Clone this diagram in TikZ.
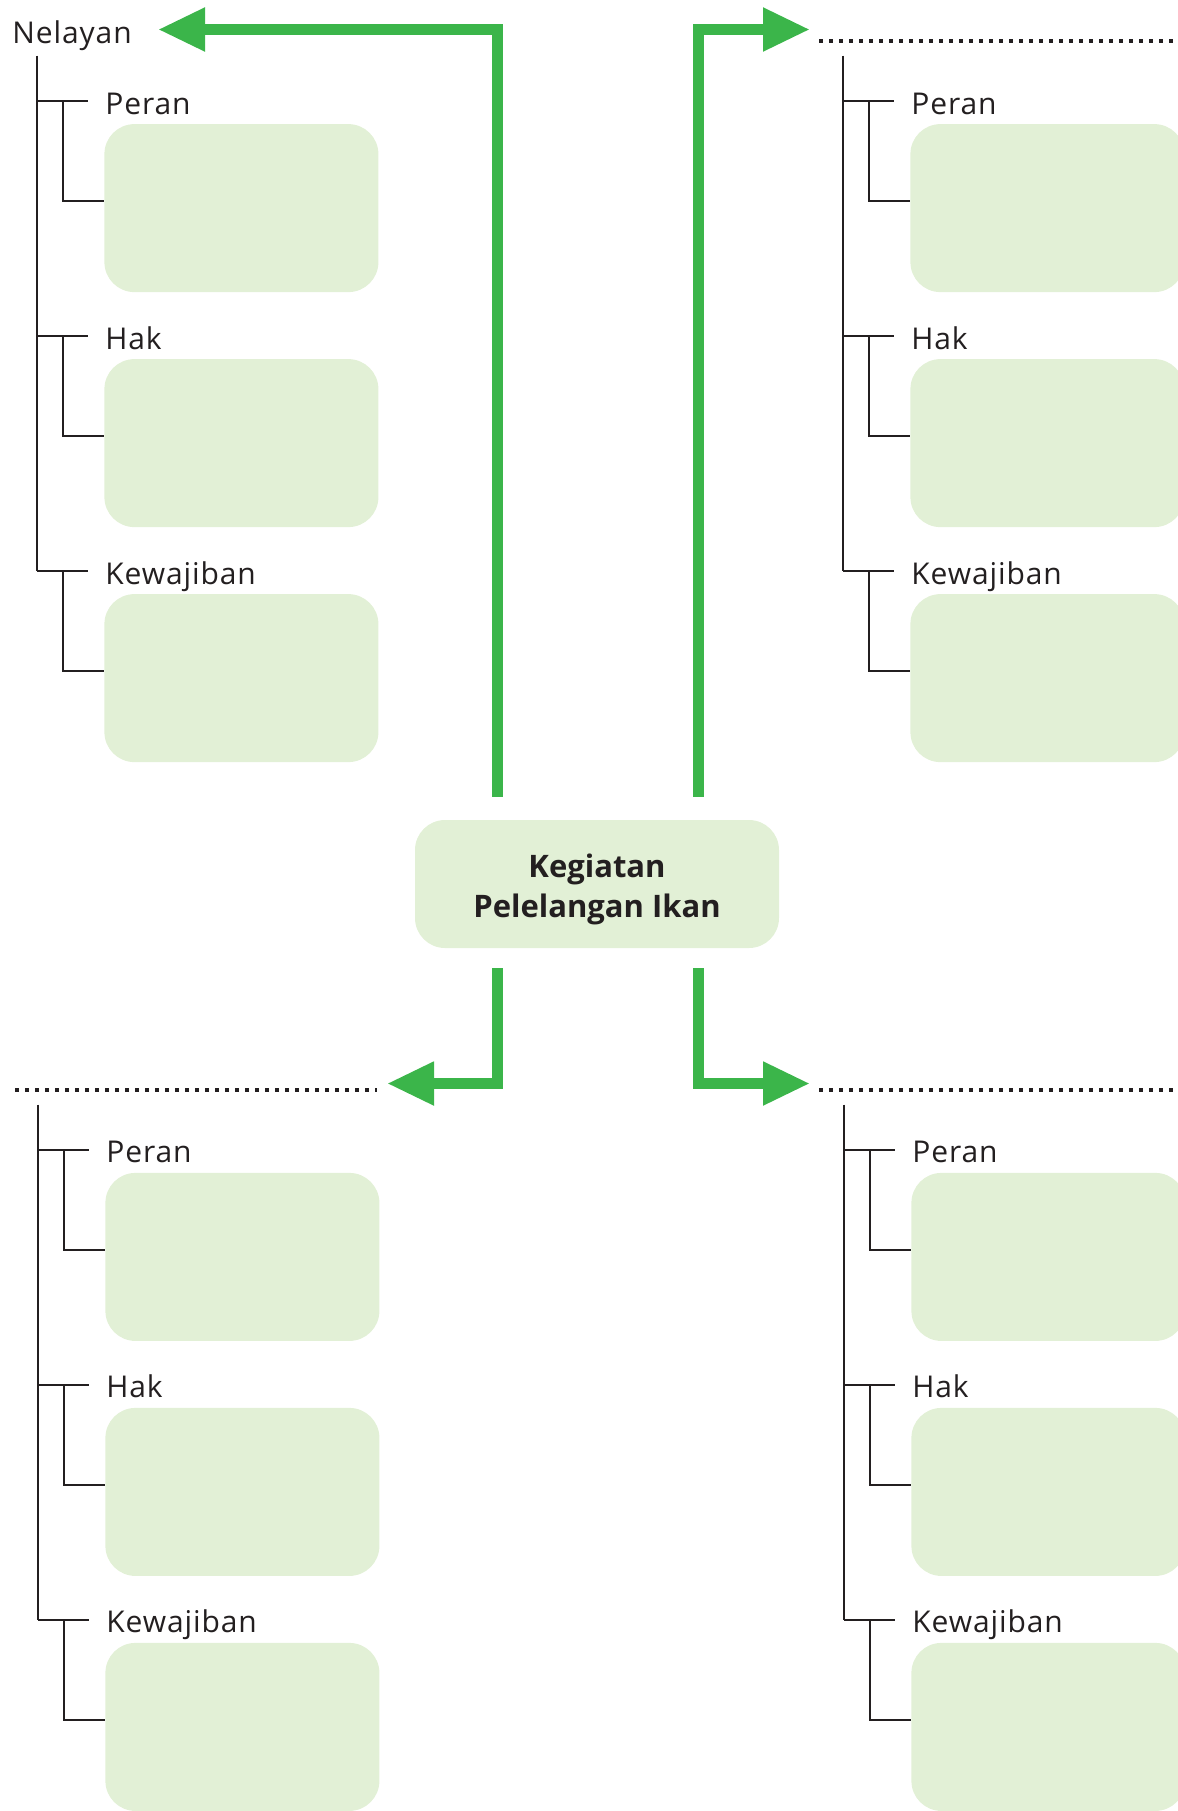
\documentclass[tikz,border=0pt]{standalone}
\usepackage{fontspec}
\setsansfont{Open Sans}[LetterSpace=3]
\newfontfamily\titlefont{Open Sans}
\usetikzlibrary{arrows.meta}
\definecolor{arrowgreen}{RGB}{59,181,74}
\definecolor{boxgreen}{RGB}{226,240,214}
\definecolor{treeline}{RGB}{35,31,32}

\begin{document}
\begin{tikzpicture}[x=0.5pt, y=-0.5pt,
    font=\sffamily\fontsize{15pt}{18pt}\selectfont,
    answerbox/.style={rectangle, rounded corners=15pt, fill=boxgreen,
      minimum width=137pt, minimum height=84pt, inner sep=0pt,
      anchor=north west},
    leaf/.style={anchor=base west, inner sep=0pt, text=treeline},
    tree/.style={treeline, line width=1pt},
    bigarrow/.style={arrowgreen, line width=5.5pt, line join=miter,
      -{Triangle[length=23.5pt, width=20.5pt]}},
    blank/.style={treeline, line width=1.8pt,
      dash pattern=on 1.8pt off 3.2pt}]
  \useasboundingbox (0,0) rectangle (1178,1811);
  \clip (0,0) rectangle (1178,1811);
  % four trees: name / x of trunk / y of first branch
  \foreach \tname/\bx/\by in {nw/37/100.7, ne/843/100.7,
      sw/38/1149.5, se/844/1149.5} {
    \coordinate (\tname-top) at (\bx,\by-45);
    \foreach \lbl [count=\k from 0] in {Peran, Hak, Kewajiban} {
      \coordinate (\tname-\k) at (\bx,\by+235*\k);
      \node[answerbox] (\tname-box\k) at (\bx+67,\by+23+235*\k) {};
      \node[leaf] (\tname-lbl\k) at (\bx+68,\by+13.3+235*\k) {\lbl};
      \draw[tree] (\tname-\k) -- ++(51,0);
      \draw[tree] ([xshift=13pt]\tname-\k) |- ([yshift=3.5pt]\tname-box\k.west);
    }
    \draw[tree] (\tname-top) -- (\tname-2);
  }
  % centre
  \node[answerbox, anchor=center, minimum width=182pt, minimum height=64pt]
    (kegiatan) at (597,884) {};
  \node[font=\titlefont\bfseries\fontsize{15.5pt}{20pt}\selectfont,
    align=center, text=treeline, inner sep=0pt] (kegiatan-text)
    at ([yshift=-2.5pt]kegiatan.center) {Kegiatan\\Pelelangan Ikan};
  \coordinate (nw-start) at ([xshift=-49.75pt, yshift=11.5pt]kegiatan.north);
  \coordinate (ne-start) at ([xshift=50.75pt, yshift=11.5pt]kegiatan.north);
  \coordinate (sw-start) at ([xshift=-49.75pt, yshift=-10pt]kegiatan.south);
  \coordinate (se-start) at ([xshift=50.75pt, yshift=-10pt]kegiatan.south);
  \coordinate (nw-tip) at (158,29.5);
  \coordinate (ne-tip) at (810,29.5);
  \coordinate (sw-tip) at (387,1083.5);
  \coordinate (se-tip) at (810,1083.5);
  \foreach \tname in {nw, ne, sw, se}
    \draw[bigarrow] (\tname-start) |- (\tname-tip);
  % titles
  \node[leaf] (nw-title) at (12,43) {Nelayan};
  \coordinate (ne-blank) at (819,41);
  \coordinate (sw-blank) at (15,1090);
  \coordinate (se-blank) at (819,1090);
  \draw[blank] (ne-blank) -- ++(359,0);
  \draw[blank] (sw-blank) -- ++(362,0);
  \draw[blank] (se-blank) -- ++(359,0);
\end{tikzpicture}
\end{document}
